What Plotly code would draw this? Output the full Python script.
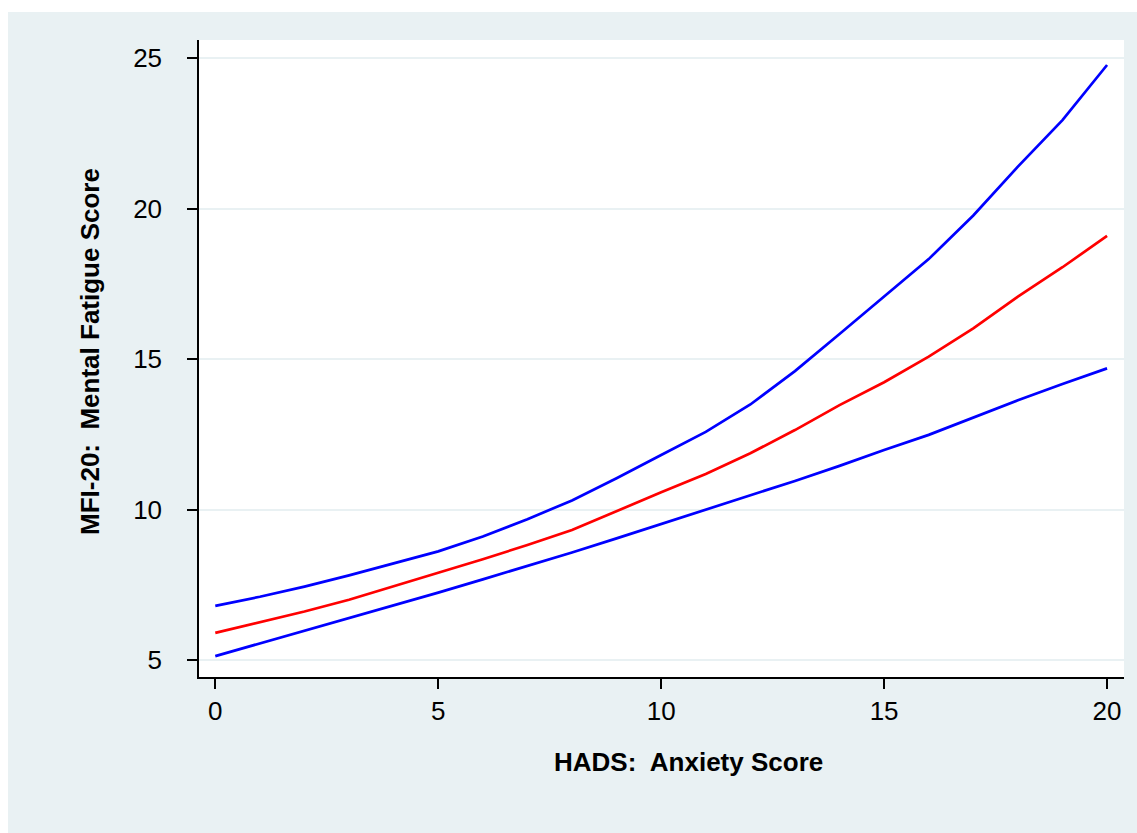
import plotly.graph_objects as go

# HADS anxiety score (x) and predicted MFI-20 mental fatigue with 95% band
anxiety = list(range(0, 21))
fatigue_fit = [5.90, 6.25, 6.61, 7.00, 7.44, 7.90, 8.35, 8.82, 9.32, 9.95, 10.57,
               11.18, 11.87, 12.64, 13.47, 14.23, 15.08, 16.02, 17.07, 18.05, 19.09]
fatigue_upper = [6.80, 7.10, 7.44, 7.81, 8.21, 8.61, 9.10, 9.68, 10.30, 11.04, 11.81,
                 12.58, 13.49, 14.60, 15.83, 17.07, 18.32, 19.77, 21.39, 22.94, 24.77]
fatigue_lower = [5.13, 5.55, 5.97, 6.39, 6.81, 7.24, 7.68, 8.12, 8.57, 9.04, 9.52,
                 9.98, 10.46, 10.95, 11.45, 11.98, 12.48, 13.06, 13.63, 14.17, 14.69]

x_ticks = [0, 5, 10, 15, 20]
y_ticks = [5, 10, 15, 20, 25]

FONT = "Liberation Sans, Arial, Helvetica, sans-serif"
BG = "#E9F1F3"

fig = go.Figure()
fig.add_trace(go.Scatter(x=anxiety, y=fatigue_upper, mode="lines",
                         line=dict(color="#0000FF", width=2.7), showlegend=False))
fig.add_trace(go.Scatter(x=anxiety, y=fatigue_fit, mode="lines",
                         line=dict(color="#FF0000", width=2.7), showlegend=False))
fig.add_trace(go.Scatter(x=anxiety, y=fatigue_lower, mode="lines",
                         line=dict(color="#0000FF", width=2.7), showlegend=False))

L, R, T, B = 199, 13, 40, 156
W, H = 1137, 833
pw, ph = W - L - R, H - T - B

def px(xp):
    return (xp - L) / pw

def py(yp):
    return (H - B - yp) / ph

# white strips along the top and left page edges, outside the plotting area
edge_strips = [
    dict(type="rect", xref="paper", yref="paper", layer="below",
         x0=px(-5), x1=px(W + 5), y0=py(12), y1=py(-5),
         fillcolor="white", line=dict(width=0)),
    dict(type="rect", xref="paper", yref="paper", layer="below",
         x0=px(-5), x1=px(8), y0=py(H + 5), y1=py(-5),
         fillcolor="white", line=dict(width=0)),
]

fig.update_layout(
    width=W, height=H,
    margin=dict(l=L, r=R, t=T, b=B, pad=0),
    paper_bgcolor=BG,
    plot_bgcolor="white",
    font=dict(family=FONT, size=26, color="black"),
    shapes=edge_strips,
    annotations=[
        dict(text="<b>HADS:\u00a0 Anxiety Score</b>", xref="paper", yref="paper",
             x=px(688.5), y=py(762), showarrow=False, xanchor="center", yanchor="middle",
             font=dict(family=FONT, size=26, color="black")),
        dict(text="<b>MFI-20:\u00a0 Mental Fatigue Score</b>", xref="paper", yref="paper",
             x=px(90), y=py(352), showarrow=False, textangle=-90,
             xanchor="center", yanchor="middle",
             font=dict(family=FONT, size=26, color="black")),
    ],
)

fig.update_xaxes(range=[-0.365, 20.38], tickvals=x_ticks, ticktext=[str(v) for v in x_ticks],
                 showgrid=False, zeroline=False, showline=True, linecolor="black", linewidth=1.5,
                 ticks="outside", ticklen=10, tickwidth=1.5, tickcolor="black",
                 ticklabelstandoff=0, tickfont=dict(family=FONT, size=26, color="black"))
fig.update_yaxes(range=[4.435, 25.6], tickvals=y_ticks, ticktext=[str(v) for v in y_ticks],
                 showgrid=True, gridcolor=BG, gridwidth=2, zeroline=False,
                 showline=True, linecolor="black", linewidth=1.5,
                 ticks="outside", ticklen=10, tickwidth=1.5, tickcolor="black",
                 ticklabelstandoff=20, tickfont=dict(family=FONT, size=26, color="black"))

fig.write_html("out.html")
